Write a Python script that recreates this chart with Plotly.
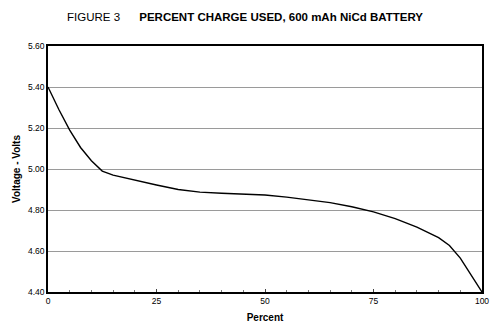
import plotly.graph_objects as go

percent = [0, 2.5, 5, 7.5, 10, 12.5, 15, 20, 25, 30, 35, 40, 45, 50, 55, 60,
           65, 70, 75, 80, 85, 90, 92.5, 95, 97.5, 100]
voltage = [5.40, 5.29, 5.19, 5.105, 5.04, 4.99, 4.97, 4.945, 4.922, 4.900, 4.887,
           4.882, 4.879, 4.873, 4.863, 4.851, 4.836, 4.816, 4.791, 4.758, 4.716,
           4.665, 4.627, 4.565, 4.485, 4.40]
x_ticks = [0, 25, 50, 75, 100]
y_ticks = [4.40, 4.60, 4.80, 5.00, 5.20, 5.40, 5.60]

FONT = "Liberation Sans, Arial, sans-serif"

fig = go.Figure()
fig.add_trace(go.Scatter(x=percent, y=voltage, mode="lines",
                         line=dict(color="black", width=1.4), showlegend=False,
                         hoverinfo="skip"))

fig.update_layout(
    width=500, height=329,
    margin=dict(l=48, r=18, t=46, b=37),
    paper_bgcolor="white", plot_bgcolor="white",
    font=dict(family=FONT, color="black", size=8),
    title=dict(text="FIGURE 3&nbsp;&nbsp;&nbsp;&nbsp;&nbsp;&nbsp;<b>PERCENT CHARGE USED, 600 mAh NiCd BATTERY</b>",
               x=0.49, xanchor="center", y=0.948, yanchor="middle",
               font=dict(family=FONT, size=11.5, color="black")),
    xaxis=dict(range=[0, 100], tickvals=x_ticks, ticktext=[str(v) for v in x_ticks],
               showgrid=False, zeroline=False, automargin=False,
               showline=True, linecolor="black", linewidth=1.5, mirror=True,
               ticks="inside", ticklen=3, tickcolor="#444",
               minor=dict(dtick=5, ticks="inside", ticklen=2, tickcolor="#777"),
               tickfont=dict(size=8.5, family=FONT),
               title=dict(text="<b>Percent</b>", font=dict(size=10, family=FONT), standoff=9)),
    yaxis=dict(range=[4.40, 5.60], tickvals=y_ticks,
               ticktext=[f"{v:.2f}" for v in y_ticks],
               showgrid=True, gridcolor="#9a9a9a", gridwidth=1, zeroline=False,
               automargin=False,
               showline=True, linecolor="black", linewidth=1.5, mirror=True,
               ticks="", tickfont=dict(size=8.5, family=FONT),
               title=dict(text="<b>Voltage - Volts</b>", font=dict(size=10, family=FONT), standoff=6)),
)

fig.write_html("out.html")
